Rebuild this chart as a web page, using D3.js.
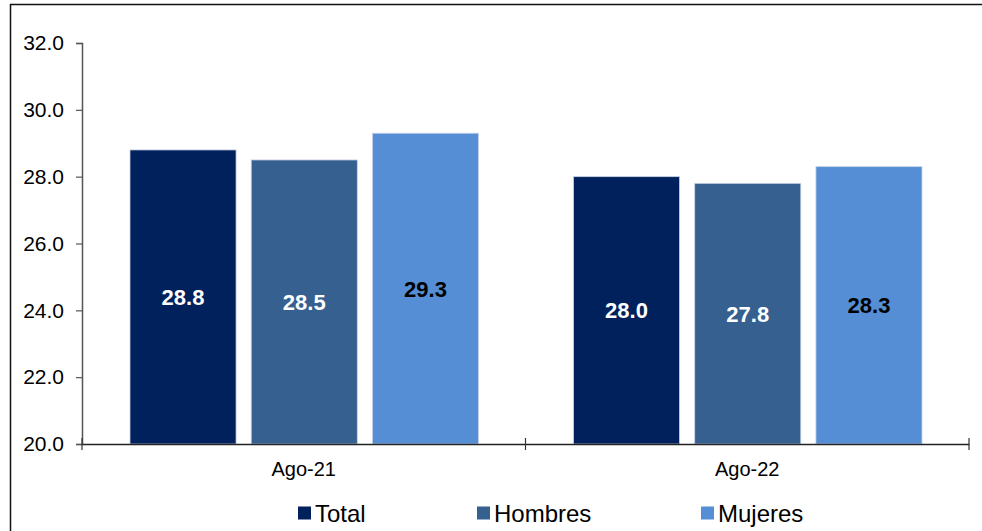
<!DOCTYPE html>
<html>
<head>
<meta charset="utf-8">
<script src="https://cdn.jsdelivr.net/npm/d3@7"></script>
<style>
  body { margin: 0; background: #fff; }
  svg { display: block; font-family: "Liberation Sans", Arial, sans-serif; }
</style>
</head>
<body>
<svg width="982" height="531"></svg>
<script>
var categories = ["Ago-21", "Ago-22"];
var seriesNames = ["Total", "Hombres", "Mujeres"];
var totalValues = [28.8, 28.0];
var hombresValues = [28.5, 27.8];
var mujeresValues = [29.3, 28.3];
var yTicks = [20, 22, 24, 26, 28, 30, 32];

var colors = ["#00215c", "#35608f", "#558ed5"];
var labelColors = ["#fff", "#fff", "#000"];

var svg = d3.select("svg"),
	margin = {top: 43, right: 13, bottom: 87, left: 82},
	width = +svg.attr("width") - margin.left - margin.right,
	height = +svg.attr("height") - margin.top - margin.bottom;

// frame of the original slide (top and left edges are visible)
svg.append("line").attr("x1", 10).attr("x2", 982).attr("y1", 4.5).attr("y2", 4.5)
	.attr("stroke", "#111").attr("stroke-width", 1.5);
svg.append("line").attr("x1", 10.5).attr("x2", 10.5).attr("y1", 4).attr("y2", 531)
	.attr("stroke", "#111").attr("stroke-width", 1.5);

var data = categories.map(function(c, i) {
	return {cat: c, values: [totalValues[i], hombresValues[i], mujeresValues[i]]};
});

var x0 = d3.scaleBand().domain(categories).range([0, width]).paddingInner(0).paddingOuter(0);
var x1 = d3.scaleBand().domain(seriesNames).range([48, x0.bandwidth() - 47]).paddingInner(0.125).paddingOuter(0);
var y = d3.scaleLinear().domain([20, 32]).range([height, 0]);

var g = svg.append("g").attr("transform", "translate(" + margin.left + "," + margin.top + ")");

// y axis
var yAxis = g.append("g")
	.call(d3.axisLeft(y).tickValues(yTicks).tickFormat(d3.format(".1f")).tickSize(6).tickPadding(12));
yAxis.select(".domain").attr("stroke", "#555").attr("stroke-width", 1.5);
yAxis.selectAll(".tick line").attr("stroke", "#555").attr("stroke-width", 1.2);
yAxis.selectAll("text").attr("font-size", 21).attr("fill", "#000")
	.attr("font-family", "Liberation Sans, Arial, sans-serif");

// bars
var groups = g.selectAll(".grp")
	.data(data)
	.enter().append("g")
	.attr("class", "grp")
	.attr("transform", function(d) { return "translate(" + x0(d.cat) + ",0)"; });

groups.selectAll("rect")
	.data(function(d) { return d.values.map(function(v, i) { return {name: seriesNames[i], v: v, i: i}; }); })
	.enter().append("rect")
	.attr("x", function(d) { return x1(d.name); })
	.attr("y", function(d) { return y(d.v); })
	.attr("width", x1.bandwidth())
	.attr("height", function(d) { return height - y(d.v); })
	.attr("fill", function(d) { return colors[d.i]; })
	.attr("stroke", "#c9d3e8")
	.attr("stroke-width", 0.8);

groups.selectAll(".lbl")
	.data(function(d) { return d.values.map(function(v, i) { return {name: seriesNames[i], v: v, i: i}; }); })
	.enter().append("text")
	.attr("class", "lbl")
	.attr("x", function(d) { return x1(d.name) + x1.bandwidth() / 2; })
	.attr("y", function(d) { return (y(d.v) + height) / 2; })
	.attr("dy", "0.36em")
	.attr("text-anchor", "middle")
	.attr("font-size", 22)
	.attr("font-weight", "bold")
	.attr("fill", function(d) { return labelColors[d.i]; })
	.text(function(d) { return d.v.toFixed(1); });

// x axis
var xAxis = g.append("g")
	.attr("transform", "translate(0," + height + ")")
	.call(d3.axisBottom(x0).tickSize(0).tickPadding(18));
xAxis.select(".domain").attr("stroke", "#222").attr("stroke-width", 1.5);
xAxis.selectAll("text").attr("font-size", 20).attr("fill", "#000")
	.attr("font-family", "Liberation Sans, Arial, sans-serif");
xAxis.selectAll(".sep")
	.data([0, x0.bandwidth(), width])
	.enter().append("line")
	.attr("class", "sep")
	.attr("x1", function(d) { return d; }).attr("x2", function(d) { return d; })
	.attr("y1", -6).attr("y2", 6)
	.attr("stroke", "#333").attr("stroke-width", 1.2);

// legend
var legendX = [298, 477, 701];
var legend = svg.append("g").attr("transform", "translate(0,513)");
seriesNames.forEach(function(n, i) {
	legend.append("rect").attr("x", legendX[i]).attr("y", -6.5).attr("width", 13).attr("height", 13)
		.attr("fill", colors[i]);
	legend.append("text").attr("x", legendX[i] + 17).attr("y", 0).attr("dy", "0.36em")
		.attr("font-size", 24).attr("fill", "#000").text(n);
});
</script>
</body>
</html>
